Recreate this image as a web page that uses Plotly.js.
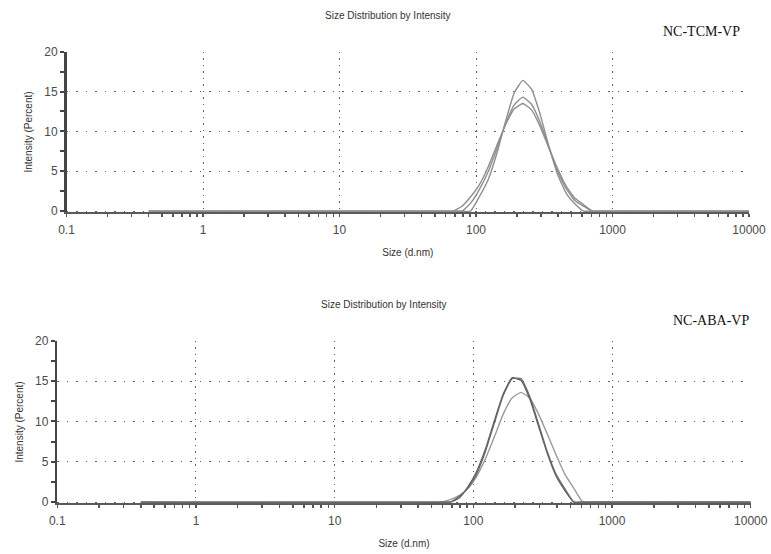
<!DOCTYPE html>
<html>
<head>
<meta charset="utf-8">
<script src="https://cdn.plot.ly/plotly-3.0.1.min.js"></script>
<style>
  html, body { margin: 0; padding: 0; background: #fff; }
  #chart { width: 771px; height: 554px; }
</style>
</head>
<body>
<div id="chart"></div>
<script>
// Size bins (d.nm) of the DLS size classes around the peaks, plus the range ends
const sizes = [0.4, 58.77, 68.06, 78.82, 91.28, 105.7, 122.4, 141.8, 164.2, 190.1, 220.2,
               255.0, 295.3, 342.0, 396.1, 458.7, 531.2, 615.1, 712.4, 825.0, 10000];

// NC-TCM-VP: three repeat measurements (intensity %)
const tcmRun1 = [0, 0, 0, 0, 0, 1.8, 3.9, 7.2, 11.2, 14.8, 16.4, 15.3, 12.1, 8.1, 4.6, 2.2, 0.9, 0, 0, 0, 0];
const tcmRun2 = [0, 0, 0, 0, 1.0, 2.7, 4.9, 7.8, 10.9, 13.3, 14.3, 13.4, 11.1, 8.0, 5.0, 2.8, 1.3, 0.6, 0, 0, 0];
const tcmRun3 = [0, 0, 0, 0.6, 1.8, 3.3, 5.5, 8.2, 10.8, 12.8, 13.5, 12.7, 10.6, 7.9, 5.3, 3.1, 1.6, 0.8, 0, 0, 0];

// NC-ABA-VP: three repeat measurements (intensity %)
const abaRun1 = [0, 0, 0, 0.7, 1.7, 3.5, 6.3, 9.8, 13.2, 15.3, 15.3, 13.1, 9.7, 6.2, 3.4, 1.6, 0, 0, 0, 0, 0];
const abaRun2 = [0, 0, 0, 0.5, 1.9, 3.8, 6.6, 10.1, 13.4, 15.4, 15.1, 12.8, 9.4, 6.0, 3.2, 1.4, 0, 0, 0, 0, 0];
const abaRun3 = [0, 0, 0.3, 0.8, 1.7, 3.2, 5.4, 8.1, 10.9, 12.9, 13.6, 12.9, 10.9, 8.4, 5.8, 3.4, 1.7, 0, 0, 0, 0];

// Axis ticks
const xTickVals = [0.1, 1, 10, 100, 1000, 10000];
const xTickText = ['0.1', '1', '10', '100', '1000', '10000'];
const yTickVals = [0, 5, 10, 15, 20];
const yTickText = ['0', '5', '10', '15', '20'];

const chartTitle = 'Size Distribution by Intensity';
const xTitle = 'Size (d.nm)';
const yTitle = 'Intensity (Percent)';
const sampleTop = 'NC-TCM-VP';
const sampleBottom = 'NC-ABA-VP';

function run(y, xa, ya, color, width) {
  return {
    x: sizes, y: y, xaxis: xa, yaxis: ya,
    type: 'scatter', mode: 'lines',
    line: { color: color, width: width, shape: 'spline', smoothing: 0.4 },
    hoverinfo: 'skip', showlegend: false
  };
}

const traces = [
  run(tcmRun3, 'x', 'y', '#8e8e8e', 1.4),
  run(tcmRun2, 'x', 'y', '#8e8e8e', 1.4),
  run(tcmRun1, 'x', 'y', '#8e8e8e', 1.4),
  run(abaRun3, 'x2', 'y2', '#9a9a9a', 1.4),
  run(abaRun2, 'x2', 'y2', '#5a5a5a', 1.3),
  run(abaRun1, 'x2', 'y2', '#6a6a6a', 1.3)
];

const tickFont = { family: 'Liberation Sans, Arial, sans-serif', size: 12, color: '#4a4a4a' };
const smallFont = { family: 'Liberation Sans, Arial, sans-serif', size: 10, color: '#333' };

function xAxis(domain, anchor) {
  return {
    type: 'log', range: [-1, 4], domain: domain, anchor: anchor,
    tickmode: 'array', tickvals: xTickVals, ticktext: xTickText,
    ticks: 'outside', ticklen: 3, tickwidth: 1.5, tickcolor: '#555',
    minor: { dtick: 'D1', ticks: 'outside', ticklen: 3, tickwidth: 1.5, tickcolor: '#555', showgrid: false },
    showline: true, linecolor: '#5a5a5a', linewidth: 1.5,
    showgrid: true, gridcolor: '#5e5e5e', gridwidth: 1, griddash: '1.5px,5px',
    tickfont: tickFont, ticklabelstandoff: 3, zeroline: false, fixedrange: true, layer: 'below traces',
    title: { text: xTitle, font: smallFont, standoff: 13 }
  };
}

function yAxis(domain, anchor) {
  return {
    range: [-0.15, 20], domain: domain, anchor: anchor,
    tickmode: 'array', tickvals: yTickVals, ticktext: yTickText,
    ticks: 'outside', ticklen: 4, tickwidth: 2, tickcolor: '#444',
    minor: { dtick: 2.5, ticks: 'outside', ticklen: 4, tickwidth: 2, tickcolor: '#444', showgrid: false },
    showline: true, linecolor: '#444', linewidth: 2.5,
    showgrid: true, gridcolor: '#5e5e5e', gridwidth: 1, griddash: '1.5px,8px',
    tickfont: tickFont, zeroline: false, fixedrange: true,
    title: { text: yTitle, font: smallFont, standoff: 10 }
  };
}

const layout = {
  width: 771, height: 554,
  margin: { l: 0, r: 0, t: 0, b: 0 },
  paper_bgcolor: '#fff', plot_bgcolor: '#fff',
  showlegend: false,
  xaxis: xAxis([0.0863, 0.9715], 'y'),
  yaxis: yAxis([0.6168, 0.9067], 'x'),
  xaxis2: xAxis([0.0743, 0.9737], 'y2'),
  yaxis2: yAxis([0.0915, 0.385], 'x2'),
  annotations: [
    { text: chartTitle, xref: 'paper', yref: 'paper', x: 388 / 771, y: 1 - 16 / 554,
      showarrow: false, font: smallFont, xanchor: 'center', yanchor: 'middle' },
    { text: chartTitle, xref: 'paper', yref: 'paper', x: 384 / 771, y: 1 - 304 / 554,
      showarrow: false, font: smallFont, xanchor: 'center', yanchor: 'middle' },
    { text: sampleTop, xref: 'paper', yref: 'paper', x: 742 / 771, y: 1 - 31 / 554,
      showarrow: false, xanchor: 'right', yanchor: 'middle',
      font: { family: 'Liberation Serif, Times New Roman, serif', size: 14, color: '#111' } },
    { text: sampleBottom, xref: 'paper', yref: 'paper', x: 751 / 771, y: 1 - 320 / 554,
      showarrow: false, xanchor: 'right', yanchor: 'middle',
      font: { family: 'Liberation Serif, Times New Roman, serif', size: 14, color: '#111' } }
  ]
};

Plotly.newPlot('chart', traces, layout, { displayModeBar: false, staticPlot: true });
</script>
</body>
</html>
